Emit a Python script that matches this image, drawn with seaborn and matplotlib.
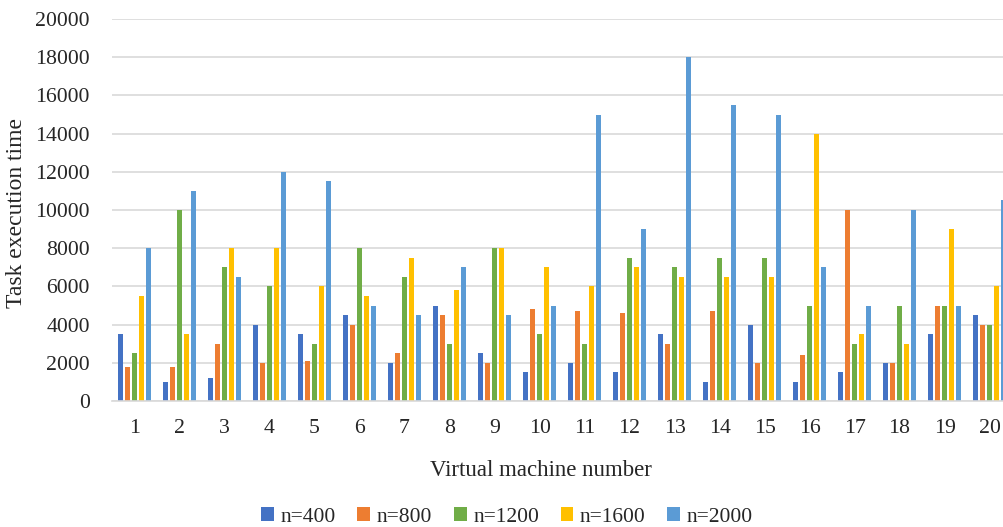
import pandas as pd
import seaborn as sns
import matplotlib.pyplot as plt

# Task execution time per virtual machine
vm_numbers = [str(i) for i in range(1, 21)]
series_names = ["n=400", "n=800", "n=1200", "n=1600", "n=2000"]
n400 = [3500, 1000, 1200, 4000, 3500, 4500, 2000, 5000, 2500, 1500,
        2000, 1500, 3500, 1000, 4000, 1000, 1500, 2000, 3500, 4500]
n800 = [1800, 1800, 3000, 2000, 2100, 4000, 2500, 4500, 2000, 4800,
        4700, 4600, 3000, 4700, 2000, 2400, 10000, 2000, 5000, 4000]
n1200 = [2500, 10000, 7000, 6000, 3000, 8000, 6500, 3000, 8000, 3500,
         3000, 7500, 7000, 7500, 7500, 5000, 3000, 5000, 5000, 4000]
n1600 = [5500, 3500, 8000, 8000, 6000, 5500, 7500, 5800, 8000, 7000,
         6000, 7000, 6500, 6500, 6500, 14000, 3500, 3000, 9000, 6000]
n2000 = [8000, 11000, 6500, 12000, 11500, 5000, 4500, 7000, 4500, 5000,
         15000, 9000, 18000, 15500, 15000, 7000, 5000, 10000, 5000, 10500]

colors = ["#4472C4", "#ED7D31", "#70AD47", "#FFC000", "#5B9BD5"]

# Build long-form frame for seaborn
frames = []
for name, vals in zip(series_names, [n400, n800, n1200, n1600, n2000]):
    frames.append(pd.DataFrame({"vm": vm_numbers, "series": name, "time": vals}))
df = pd.concat(frames, ignore_index=True)

sns.set_theme(style="white")
plt.rcParams["font.family"] = ["Liberation Serif", "DejaVu Serif"]

fig = plt.figure(figsize=(10.04, 5.27), dpi=100)
# axes deliberately runs past the right edge: the reference is cropped there
ax = fig.add_axes([112 / 1004, 126 / 527, 900 / 1004, 382 / 527])

sns.barplot(data=df, x="vm", y="time", hue="series", order=vm_numbers,
            hue_order=series_names, palette=colors, width=0.78, gap=0.18,
            saturation=1, linewidth=0, legend=True, ax=ax)

ax.set_ylim(0, 20000)
ax.set_xlim(-0.5, 19.5)
ax.set_yticks(range(0, 20001, 2000))
ax.yaxis.grid(True, color="#D9D9D9", linewidth=1.2)
ax.set_axisbelow(True)
for side in ["top", "right", "left"]:
    ax.spines[side].set_visible(False)
ax.spines["bottom"].set_color("#D9D9D9")
ax.spines["bottom"].set_linewidth(1.2)
ax.tick_params(axis="y", length=0, pad=16, labelsize=15.7, labelcolor="#262626")
ax.tick_params(axis="x", length=0, pad=13, labelsize=15.7, labelcolor="#262626")

ax.set_xlabel("")
ax.set_ylabel("")
fig.text(17 / 1004, 1 - 213 / 527, "Task execution time", fontsize=17,
         color="#262626", ha="center", va="center", rotation=90)
fig.text(541 / 1004, 1 - 470 / 527, "Virtual machine number", fontsize=16.5,
         color="#262626", ha="center", va="center")

ax.legend_.remove()
handles, labels = ax.get_legend_handles_labels()
fig.legend(handles, labels, loc="center", bbox_to_anchor=(507 / 1004, 1 - 517 / 527),
           ncol=5, frameon=False, fontsize=15.5, handlelength=0.6, handleheight=0.6,
           handletextpad=0.3, columnspacing=1.0, labelcolor="#262626")

fig.savefig("out.png", dpi=100, facecolor="white")
